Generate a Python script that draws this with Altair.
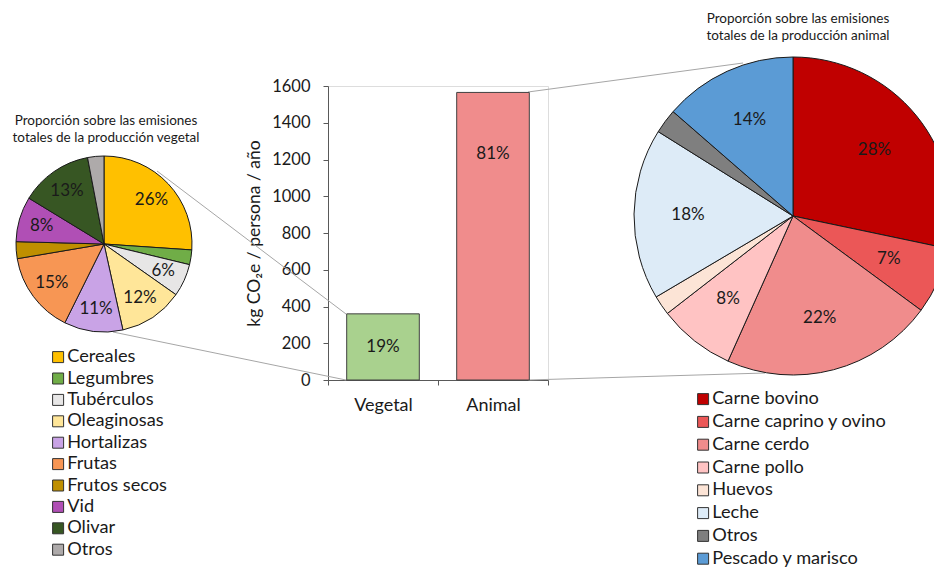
import altair as alt
import pandas as pd

# ---------------- data ----------------
veg_cats = ["Cereales", "Legumbres", "Tubérculos", "Oleaginosas", "Hortalizas",
            "Frutas", "Frutos secos", "Vid", "Olivar", "Otros"]
veg_share = [26.1, 2.7, 6.0, 11.8, 10.8, 15.0, 3.1, 8.3, 13.3, 3.0]
veg_labels = ["26%", "", "6%", "12%", "11%", "15%", "", "8%", "13%", ""]
veg_colors = ["#FFC000", "#70AD47", "#E7E6E6", "#FFE699", "#C9A3E6",
              "#F79654", "#BF8F00", "#B04FB5", "#375623", "#AEAAAA"]

ani_cats = ["Carne bovino", "Carne caprino y ovino", "Carne cerdo", "Carne pollo",
            "Huevos", "Leche", "Otros", "Pescado y marisco"]
ani_share = [28.3, 6.8, 21.6, 7.8, 2.0, 17.4, 2.5, 13.6]
ani_labels = ["28%", "7%", "22%", "8%", "", "18%", "", "14%"]
ani_colors = ["#C00000", "#EB5757", "#F08C8C", "#FFC3C3",
              "#FCE4D6", "#DDEBF7", "#7F7F7F", "#5B9BD5"]

bar_cats = ["Vegetal", "Animal"]
bar_values = [360, 1565]
bar_labels = ["19%", "81%"]
bar_colors = ["#A9D18E", "#F08C8C"]
y_ticks = [0, 200, 400, 600, 800, 1000, 1200, 1400, 1600]

veg_title = "Proporción sobre las emisiones\ntotales de la producción vegetal"
ani_title = "Proporción sobre las emisiones\ntotales de la producción animal"

# ---------------- layout (pixels) ----------------
OX, OY = 328, 86          # page position of the bar plot area
PW, PH = 220, 294         # bar plot area size
SVG_W, SVG_H = 926, 560   # whole svg size
bar_label_frac = [0.5, 0.786]


def vx(px):
    return px - OX


def vy(py):
    return py - OY


FONT = "Lato"
TXT = "#1a1a1a"
AX = "#595959"

veg_df = pd.DataFrame({"cat": veg_cats, "share": veg_share, "label": veg_labels,
                       "idx": list(range(len(veg_cats)))})
ani_df = pd.DataFrame({"cat": ani_cats, "share": ani_share, "label": ani_labels,
                       "idx": list(range(len(ani_cats)))})
bar_df = pd.DataFrame({"tipo": bar_cats, "kg": bar_values, "label": bar_labels})
bar_df["label_y"] = [v * f for v, f in zip(bar_values, bar_label_frac)]

dummy = pd.DataFrame({"d": [0]})


def connector(x1, y1, x2, y2):
    return alt.Chart(dummy).mark_rule(color="#A6A6A6", strokeWidth=1).encode(
        x=alt.value(vx(x1)), y=alt.value(vy(y1)),
        x2=alt.value(vx(x2)), y2=alt.value(vy(y2)))


connectors = [
    connector(157, 171, 346, 314),
    connector(113, 332, 346, 380),
    connector(528, 92, 743, 63),
    connector(528, 380, 765, 373),
]

x_axis = alt.Axis(title=None, labelAngle=0, tickBand="extent",
                  domainColor=AX, tickColor=AX, tickSize=5,
                  labelFontSize=18, labelColor=TXT, labelPadding=11,
                  labelFont=FONT)
y_axis = alt.Axis(values=y_ticks, format="d", grid=False, labelOverlap=False,
                  domainColor=AX, tickColor=AX,
                  tickSize=5, labelPadding=13, labelFontSize=16.5,
                  labelColor=TXT, labelFont=FONT,
                  title="kg CO₂e / persona / año", titleFontSize=17.5,
                  titleFontWeight="normal", titleColor=TXT,
                  titleFont=FONT, titlePadding=8)
x_scale = alt.Scale(paddingInner=0, paddingOuter=0)
y_scale = alt.Scale(domain=[0, 1600], nice=False)

bars = alt.Chart(bar_df).mark_bar(
    width=alt.RelativeBandSize(0.66), stroke="#404040", strokeWidth=1
).encode(
    x=alt.X("tipo:N", sort=bar_cats, scale=x_scale, axis=x_axis),
    y=alt.Y("kg:Q", scale=y_scale, axis=y_axis),
    fill=alt.Fill("tipo:N", scale=alt.Scale(domain=bar_cats, range=bar_colors),
                  legend=None),
)

bar_text = alt.Chart(bar_df).mark_text(fontSize=17, color=TXT, font=FONT).encode(
    x=alt.X("tipo:N", sort=bar_cats, scale=x_scale, axis=x_axis),
    y=alt.Y("label_y:Q", scale=y_scale, axis=y_axis),
    text="label:N",
)


def legend(x, y, row_pad):
    return alt.Legend(title=None, orient="none", legendX=x, legendY=y,
                      symbolType="square", symbolSize=121,
                      symbolStrokeColor="#333333", symbolStrokeWidth=1,
                      symbolOpacity=1,
                      labelFontSize=18.2, labelFont=FONT, labelColor=TXT,
                      labelOffset=0, labelLimit=400,
                      rowPadding=row_pad, padding=0)


VCX, VCY, VR = 104, 244, 88
ACX, ACY, AR = 793, 216, 159

veg_arc = alt.Chart(veg_df).mark_arc(radius=VR, stroke="#1a1a1a", strokeWidth=1).encode(
    theta=alt.Theta("share:Q", stack=True),
    color=alt.Color("cat:N", scale=alt.Scale(domain=veg_cats, range=veg_colors),
                    legend=legend(vx(49), vy(348), 2.4)),
    order=alt.Order("idx:Q"),
    x=alt.value(vx(VCX)), y=alt.value(vy(VCY)),
)
veg_txt = alt.Chart(veg_df).mark_text(radius=65, fontSize=17, color=TXT, font=FONT).encode(
    theta=alt.Theta("share:Q", stack=True),
    detail="cat:N",
    order=alt.Order("idx:Q"),
    text="label:N",
    x=alt.value(vx(VCX)), y=alt.value(vy(VCY)),
)

ani_arc = alt.Chart(ani_df).mark_arc(radius=AR, stroke="#1a1a1a", strokeWidth=1).encode(
    theta=alt.Theta("share:Q", stack=True),
    color=alt.Color("cat:N", scale=alt.Scale(domain=ani_cats, range=ani_colors),
                    legend=legend(vx(694), vy(390), 3.8)),
    order=alt.Order("idx:Q"),
    x=alt.value(vx(ACX)), y=alt.value(vy(ACY)),
)
ani_txt = alt.Chart(ani_df).mark_text(radius=105, fontSize=17, color=TXT, font=FONT).encode(
    theta=alt.Theta("share:Q", stack=True),
    detail="cat:N",
    order=alt.Order("idx:Q"),
    text="label:N",
    x=alt.value(vx(ACX)), y=alt.value(vy(ACY)),
)

veg_title_layer = alt.Chart(pd.DataFrame({"t": [veg_title]})).mark_text(
    lineBreak="\n", lineHeight=16.5, fontSize=13.5, font=FONT, color=TXT,
    align="center", baseline="middle"
).encode(text="t:N", x=alt.value(vx(106)), y=alt.value(vy(121)))
ani_title_layer = alt.Chart(pd.DataFrame({"t": [ani_title]})).mark_text(
    lineBreak="\n", lineHeight=16.5, fontSize=13.5, font=FONT, color=TXT,
    align="center", baseline="middle"
).encode(text="t:N", x=alt.value(vx(798)), y=alt.value(vy(19)))

chart = alt.layer(
    *connectors, bars, bar_text, veg_arc, veg_txt, ani_arc, ani_txt,
    veg_title_layer, ani_title_layer
).resolve_scale(
    theta="independent", color="independent"
).properties(
    width=PW, height=PH,
    padding={"left": OX - 8, "top": OY - 8,
             "right": SVG_W - (OX - 8) - PW,
             "bottom": SVG_H - (OY - 8) - PH},
    autosize=alt.AutoSizeParams(type="none"),
).configure_view(stroke=None).configure(font=FONT)

chart.save("out.html", embed_options={"renderer": "svg", "actions": False})
